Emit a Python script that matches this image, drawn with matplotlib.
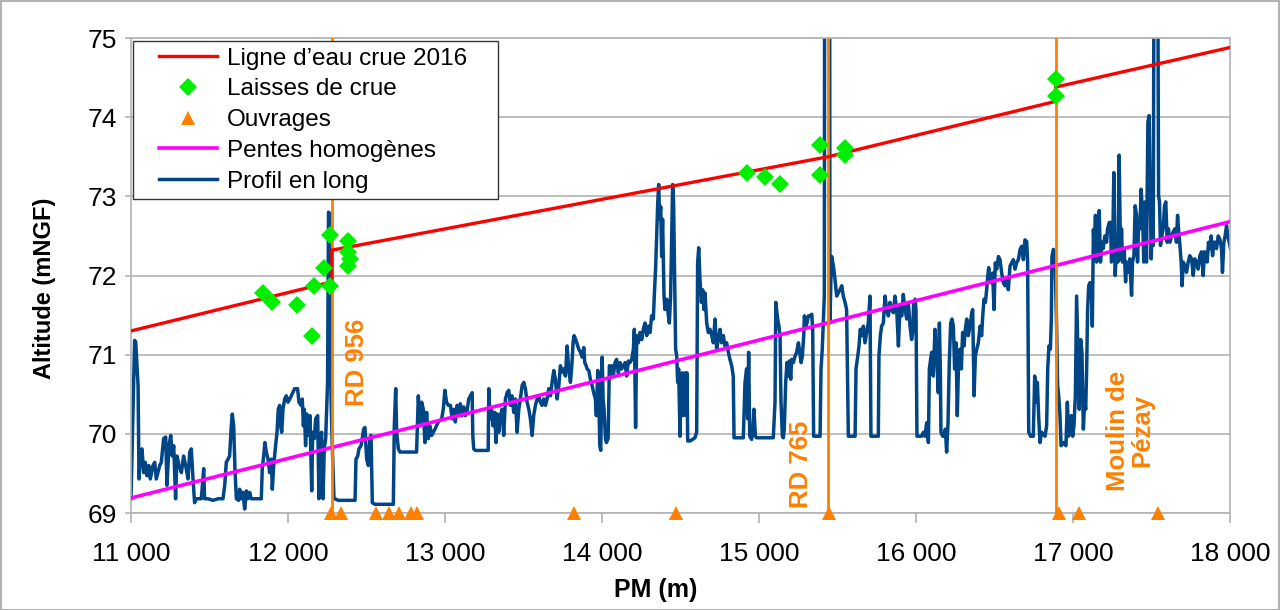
import matplotlib
matplotlib.use("Agg")
import matplotlib.pyplot as plt
from matplotlib.ticker import FuncFormatter
from matplotlib.lines import Line2D
from matplotlib.legend_handler import HandlerLine2D

plt.rcParams['font.family'] = ['Liberation Sans', 'DejaVu Sans']

# ---------------- data ----------------
ligne_pm = [11000, 12280, 12280, 15440, 16890, 16890, 18000]
ligne_z = [71.30, 71.92, 72.32, 73.50, 74.20, 74.38, 74.88]

laisses_pm = [11843, 11896, 12055, 12151, 12168, 12231, 12268, 12268, 12380, 12384, 12395, 12384,
              14924, 15038, 15134, 15389, 15389, 15548, 15548, 16892, 16892]
laisses_z = [71.78, 71.67, 71.63, 71.23, 71.87, 72.10, 72.51, 71.87, 72.44, 72.30, 72.21, 72.12,
             73.29, 73.24, 73.16, 73.65, 73.27, 73.61, 73.52, 74.48, 74.27]

ouvrages_pm = [12274, 12338, 12561, 12643, 12707, 12783, 12822, 13822, 14471, 15446, 16911, 17038, 17541]
ouvrages_z = [69.0] * len(ouvrages_pm)

ouvrages_majeurs_pm = [12280, 15440, 16890]
ouvrages_majeurs_noms = ["RD 956", "RD 765", "Moulin de\nPézay"]
ouvrages_majeurs_label_pm = [12440, 15267, 17363]
ouvrages_majeurs_label_z = [70.90, 69.61, 70.04]

pentes_pm = [11000, 18000]
pentes_z = [69.19, 72.68]

profil_pm = [
    11000, 11023, 11030, 11045, 11051, 11059, 11070, 11081, 11091, 11102, 11113, 11123, 11140, 11151,
    11161, 11183, 11193, 11208, 11221, 11229, 11242, 11253, 11263, 11272, 11284, 11293, 11306, 11321,
    11335, 11348, 11363, 11374, 11384, 11395, 11405, 11416, 11448, 11463, 11469, 11490, 11522, 11554,
    11586, 11597, 11607, 11618, 11628, 11639, 11645, 11654, 11662, 11671, 11686, 11692, 11703, 11713,
    11724, 11735, 11745, 11756, 11766, 11819, 11830, 11836, 11845, 11853, 11862, 11873, 11883, 11894,
    11900, 11909, 11921, 11930, 11938, 11947, 11953, 11960, 11968, 11979, 11989, 12000, 12011, 12021,
    12042, 12061, 12070, 12083, 12091, 12098, 12104, 12112, 12119, 12129, 12140, 12151, 12157, 12168,
    12176, 12189, 12197, 12206, 12214, 12223, 12231, 12240, 12252, 12258, 12266, 12274, 12282, 12293,
    12299, 12320, 12352, 12405, 12427, 12433, 12444, 12452, 12465, 12473, 12482, 12490, 12501, 12512,
    12522, 12529, 12537, 12554, 12639, 12671, 12677, 12686, 12692, 12703, 12713, 12734, 12819, 12830,
    12841, 12851, 12862, 12872, 12883, 12894, 12904, 12915, 12936, 12957, 12979, 12989, 12999, 13010,
    13021, 13035, 13045, 13056, 13066, 13077, 13088, 13098, 13109, 13120, 13130, 13141, 13151, 13162,
    13173, 13177, 13183, 13194, 13236, 13275, 13279, 13287, 13296, 13306, 13317, 13325, 13334, 13342,
    13353, 13364, 13374, 13385, 13396, 13406, 13417, 13427, 13438, 13449, 13459, 13470, 13480, 13491,
    13502, 13512, 13523, 13534, 13544, 13555, 13565, 13576, 13587, 13597, 13608, 13618, 13629, 13640,
    13650, 13661, 13672, 13682, 13693, 13703, 13714, 13725, 13735, 13746, 13756, 13767, 13778, 13788,
    13799, 13809, 13816, 13822, 13831, 13841, 13852, 13863, 13873, 13884, 13890, 13899, 13905, 13916,
    13926, 13937, 13947, 13958, 13964, 13973, 13979, 13986, 13992, 14001, 14007, 14013, 14022, 14028,
    14039, 14047, 14056, 14062, 14072, 14083, 14093, 14104, 14115, 14125, 14136, 14147, 14157, 14168,
    14178, 14189, 14200, 14206, 14214, 14221, 14231, 14242, 14253, 14263, 14274, 14285, 14295, 14306,
    14316, 14327, 14333, 14342, 14348, 14355, 14361, 14367, 14374, 14380, 14386, 14395, 14401, 14412,
    14423, 14429, 14437, 14444, 14450, 14456, 14463, 14469, 14476, 14482, 14488, 14497, 14503, 14510,
    14516, 14522, 14529, 14535, 14541, 14546, 14561, 14592, 14603, 14609, 14616, 14624, 14633, 14641,
    14650, 14656, 14667, 14677, 14688, 14699, 14709, 14720, 14730, 14741, 14752, 14762, 14773, 14783,
    14794, 14805, 14815, 14826, 14836, 14841, 14858, 14900, 14911, 14921, 14928, 14934, 14941, 14947,
    14953, 14960, 14968, 14977, 14985, 15028, 15091, 15102, 15107, 15119, 15127, 15134, 15140, 15149,
    15155, 15161, 15170, 15178, 15187, 15193, 15202, 15208, 15219, 15229, 15240, 15251, 15257, 15268,
    15276, 15285, 15289, 15297, 15306, 15314, 15325, 15336, 15342, 15348, 15367, 15389, 15395, 15403,
    15412, 15416, 15418, 15450, 15452, 15458, 15463, 15474, 15484, 15495, 15505, 15516, 15527, 15537,
    15548, 15558, 15569, 15590, 15612, 15618, 15629, 15637, 15645, 15654, 15665, 15675, 15686, 15696,
    15707, 15713, 15739, 15760, 15764, 15773, 15781, 15792, 15803, 15813, 15824, 15834, 15845, 15856,
    15866, 15877, 15888, 15898, 15909, 15919, 15930, 15941, 15951, 15962, 15972, 15979, 15985, 15994,
    16000, 16006, 16036, 16047, 16057, 16068, 16079, 16085, 16093, 16100, 16110, 16121, 16132, 16142,
    16149, 16155, 16159, 16170, 16178, 16187, 16195, 16204, 16212, 16221, 16229, 16238, 16246, 16255,
    16263, 16272, 16280, 16289, 16297, 16306, 16314, 16323, 16333, 16344, 16355, 16361, 16370, 16378,
    16387, 16397, 16408, 16418, 16425, 16433, 16442, 16450, 16457, 16463, 16471, 16480, 16488, 16497,
    16505, 16514, 16525, 16535, 16546, 16556, 16567, 16578, 16588, 16599, 16609, 16620, 16631, 16641,
    16652, 16663, 16673, 16684, 16694, 16705, 16711, 16718, 16730, 16747, 16756, 16764, 16773, 16781,
    16790, 16800, 16822, 16832, 16839, 16847, 16856, 16862, 16866, 16875, 16885, 16896, 16902, 16909,
    16917, 16924, 16939, 16955, 16964, 16972, 16981, 16989, 16998, 17006, 17015, 17023, 17032, 17040,
    17049, 17057, 17066, 17074, 17081, 17087, 17093, 17100, 17108, 17117, 17123, 17130, 17135, 17143,
    17150, 17160, 17167, 17175, 17184, 17192, 17203, 17214, 17220, 17231, 17239, 17245, 17252, 17260,
    17269, 17277, 17286, 17294, 17303, 17309, 17315, 17326, 17335, 17341, 17352, 17362, 17373, 17379,
    17388, 17396, 17405, 17411, 17417, 17426, 17434, 17443, 17451, 17460, 17468, 17477, 17485, 17492,
    17498, 17504, 17511, 17516, 17540, 17545, 17551, 17557, 17566, 17574, 17583, 17591, 17600, 17608,
    17617, 17628, 17638, 17649, 17659, 17666, 17672, 17681, 17689, 17695, 17702, 17712, 17723, 17734,
    17744, 17755, 17766, 17776, 17787, 17797, 17808, 17819, 17829, 17838, 17846, 17855, 17863, 17872,
    17880, 17889, 17897, 17906, 17914, 17925, 17935, 17946, 17952, 17961, 17969, 17978, 17986, 17995,
    18003,
]
profil_z = [
    69.18, 71.18, 71.16, 70.61, 69.43, 69.68, 69.81, 69.51, 69.64, 69.47, 69.60, 69.43, 69.60, 69.64,
    69.43, 69.60, 69.64, 69.94, 69.96, 69.35, 69.85, 69.98, 69.72, 69.85, 69.18, 69.72, 69.60, 69.51,
    69.72, 69.60, 69.43, 69.77, 69.81, 69.43, 69.13, 69.18, 69.18, 69.56, 69.18, 69.18, 69.16, 69.18,
    69.18, 69.35, 69.64, 69.68, 69.72, 70.10, 70.25, 70.10, 69.56, 69.18, 69.16, 69.30, 69.18, 69.26,
    69.05, 69.28, 69.18, 69.26, 69.18, 69.18, 69.18, 69.56, 69.72, 69.89, 69.77, 69.68, 69.51, 69.68,
    69.30, 69.60, 69.85, 70.02, 70.31, 70.36, 70.10, 70.02, 70.31, 70.44, 70.48, 70.40, 70.44, 70.48,
    70.57, 70.57, 70.40, 70.36, 70.44, 70.10, 70.31, 69.85, 70.25, 69.98, 70.23, 69.28, 70.02, 69.94,
    70.19, 70.23, 69.18, 69.89, 70.02, 69.18, 69.81, 69.94, 70.65, 72.80, 72.78, 70.44, 69.85, 69.18,
    69.18, 69.16, 69.16, 69.16, 69.16, 69.68, 69.72, 69.81, 69.85, 69.94, 70.06, 70.08, 69.68, 69.60,
    69.94, 69.98, 69.13, 69.11, 69.11, 69.11, 70.10, 70.57, 70.02, 69.81, 69.77, 69.77, 69.77, 70.48,
    70.10, 70.40, 70.31, 69.89, 70.27, 69.94, 70.10, 69.98, 70.06, 70.15, 70.19, 70.31, 70.55, 70.40,
    70.36, 70.36, 70.19, 70.31, 70.15, 70.36, 70.27, 70.38, 70.23, 70.34, 70.23, 70.29, 70.44, 70.48,
    70.52, 69.98, 69.81, 69.79, 69.79, 69.79, 70.57, 70.19, 70.31, 70.10, 70.27, 69.89, 70.25, 70.02,
    70.23, 70.31, 69.98, 70.44, 70.52, 70.55, 70.36, 70.48, 70.27, 70.44, 70.02, 70.31, 70.44, 70.61,
    70.65, 70.57, 70.40, 70.31, 70.19, 69.98, 70.23, 70.36, 70.44, 70.48, 70.40, 70.36, 70.44, 70.36,
    70.44, 70.57, 70.48, 70.65, 70.80, 70.69, 70.44, 70.61, 70.86, 70.78, 70.82, 70.73, 71.11, 70.82,
    70.65, 70.90, 71.16, 71.24, 71.20, 71.14, 71.07, 71.03, 70.97, 71.09, 70.90, 70.86, 70.82, 70.80,
    70.69, 70.61, 70.52, 70.44, 70.23, 70.80, 70.48, 69.85, 69.79, 70.97, 70.44, 70.31, 69.94, 69.89,
    69.94, 70.86, 70.82, 70.86, 70.73, 70.90, 70.94, 70.77, 70.90, 70.82, 70.86, 70.90, 70.73, 70.92,
    70.90, 70.94, 71.07, 71.32, 70.08, 71.24, 71.15, 71.28, 71.19, 71.32, 71.40, 71.24, 71.36, 71.28,
    71.49, 71.45, 71.74, 72.12, 72.50, 72.92, 73.15, 72.71, 72.87, 72.24, 72.71, 71.74, 71.57, 71.70,
    71.49, 71.40, 71.74, 72.50, 73.15, 72.92, 71.87, 71.07, 70.98, 70.65, 70.82, 69.97, 70.65, 70.77,
    70.23, 70.48, 70.77, 70.23, 70.77, 69.91, 69.91, 69.95, 70.02, 72.16, 72.35, 71.95, 71.66, 71.82,
    71.57, 71.78, 71.40, 71.28, 71.32, 71.24, 71.15, 71.45, 71.07, 71.19, 71.32, 71.15, 71.24, 71.11,
    71.15, 71.03, 70.94, 70.86, 70.73, 69.95, 69.95, 69.95, 70.65, 70.82, 70.19, 71.03, 69.97, 69.95,
    69.93, 70.02, 70.31, 69.97, 69.95, 69.95, 69.95, 70.40, 71.66, 71.45, 71.36, 71.24, 70.40, 69.97,
    69.95, 70.06, 70.65, 70.90, 70.73, 70.92, 70.69, 70.94, 70.90, 70.98, 71.03, 71.15, 71.07, 70.90,
    70.98, 71.24, 71.49, 71.36, 71.40, 71.49, 71.49, 71.51, 71.32, 69.97, 69.97, 69.97, 70.82, 71.07,
    71.55, 71.74, 76.00, 76.00, 71.40, 71.95, 72.24, 72.12, 71.95, 71.74, 71.78, 71.82, 71.87, 71.74,
    71.66, 71.57, 69.97, 69.97, 69.97, 70.82, 70.98, 71.11, 71.32, 71.24, 71.36, 71.15, 71.28, 71.40,
    71.74, 69.97, 69.97, 69.97, 70.98, 71.24, 71.36, 71.40, 71.74, 71.57, 71.49, 71.66, 71.57, 71.53,
    71.74, 71.57, 71.11, 71.61, 71.49, 71.76, 71.57, 71.45, 71.66, 71.36, 71.19, 71.28, 71.66, 71.70,
    71.57, 69.97, 69.97, 70.02, 69.97, 70.14, 69.89, 70.82, 70.94, 71.03, 70.73, 71.32, 70.98, 70.52,
    71.40, 70.82, 70.02, 69.97, 69.97, 70.06, 69.77, 70.14, 70.90, 71.40, 71.45, 71.36, 70.82, 71.15,
    70.23, 70.98, 71.07, 70.82, 71.28, 71.11, 71.32, 71.45, 71.24, 71.36, 71.53, 71.57, 70.48, 70.98,
    71.07, 71.15, 71.36, 71.24, 71.49, 71.70, 71.66, 71.82, 71.99, 72.10, 71.95, 71.91, 72.03, 71.57,
    72.16, 72.08, 72.24, 72.20, 72.03, 71.91, 71.87, 71.95, 71.82, 72.12, 72.16, 72.20, 72.08, 72.16,
    72.20, 72.33, 72.37, 72.20, 72.45, 72.43, 72.16, 70.02, 69.97, 69.97, 70.73, 70.40, 70.65, 70.23,
    69.89, 70.02, 69.97, 70.10, 70.82, 71.11, 71.07, 71.45, 72.24, 72.33, 72.29, 71.32, 70.61, 70.48,
    70.23, 69.85, 69.89, 69.85, 70.40, 69.97, 70.06, 70.23, 69.97, 70.10, 70.48, 71.74, 70.98, 70.31,
    71.19, 71.03, 70.06, 70.40, 70.31, 70.82, 71.57, 71.87, 71.91, 71.82, 71.36, 72.58, 72.34, 72.76,
    72.17, 72.50, 72.82, 72.17, 72.42, 72.34, 72.50, 72.42, 72.59, 72.67, 72.67, 72.17, 72.25, 73.30,
    72.00, 72.42, 72.17, 73.52, 72.21, 72.59, 72.17, 72.34, 71.92, 72.17, 72.04, 72.21, 71.75, 72.17,
    72.25, 72.88, 72.76, 72.17, 72.59, 72.59, 73.09, 72.76, 72.17, 72.93, 72.17, 73.94, 74.02, 73.01,
    72.21, 72.59, 72.38, 76.00, 76.00, 73.01, 72.93, 72.38, 72.50, 72.59, 72.88, 72.93, 72.42, 72.59,
    72.42, 72.50, 72.55, 72.59, 72.42, 72.76, 72.59, 72.38, 72.17, 71.87, 72.17, 72.13, 72.04, 72.17,
    72.25, 72.21, 72.00, 72.21, 72.17, 72.08, 72.25, 72.30, 72.00, 72.30, 72.25, 72.17, 72.42, 72.34,
    72.50, 72.25, 72.42, 72.42, 72.34, 72.50, 72.46, 72.34, 72.04, 72.42, 72.50, 72.63, 72.50, 72.42,
    72.34,
]

x_ticks = [11000, 12000, 13000, 14000, 15000, 16000, 17000, 18000]
y_ticks = [69, 70, 71, 72, 73, 74, 75]

# ---------------- styles ----------------
BLUE = '#004586'
RED = '#ff0000'
GREEN = '#00ee00'
ORANGE = '#ff8000'
MAGENTA = '#ff00ff'
GRID = '#b3b3b3'
W, H = 1280, 610

fig = plt.figure(figsize=(12.8, 6.1), dpi=100)
ax = fig.add_axes([131 / W, 1 - 513 / H, (1230 - 131) / W, (513 - 38) / H])

ax.set_xlim(11000, 18000)
ax.set_ylim(69, 75)

ax.plot(profil_pm, profil_z, color=BLUE, lw=2.5, zorder=2, label='Profil en long')
ax.plot(pentes_pm, pentes_z, color=MAGENTA, lw=2.6, zorder=3, label='Pentes homogènes')
for pm in ouvrages_majeurs_pm:
    ax.axvline(pm, color=ORANGE, lw=2.0, zorder=3.5)
ax.plot(ligne_pm, ligne_z, color=RED, lw=2.4, zorder=4, label="Ligne d\u2019eau crue 2016")
ax.plot(laisses_pm, laisses_z, linestyle='none', marker='D', ms=9, color=GREEN,
        markeredgewidth=0, zorder=5, label='Laisses de crue')
ax.plot(ouvrages_pm, ouvrages_z, linestyle='none', marker='^', ms=10.5, color=ORANGE,
        markeredgewidth=0, zorder=6, clip_on=False, label='Ouvrages')

for nom, xp, yp in zip(ouvrages_majeurs_noms, ouvrages_majeurs_label_pm, ouvrages_majeurs_label_z):
    ax.text(xp, yp, nom, rotation=90, color=ORANGE, fontsize=18.5, fontweight='bold',
            ha='center', va='center', multialignment='center', linespacing=1.0, zorder=7)

# axes styling
ax.set_xticks(x_ticks)
ax.set_yticks(y_ticks)
ax.xaxis.set_major_formatter(FuncFormatter(lambda v, p: f"{int(v):,}".replace(',', ' ')))
ax.grid(axis='y', color=GRID, lw=1.2, zorder=0)
ax.set_axisbelow(True)
for s in ax.spines.values():
    s.set_color(GRID)
    s.set_linewidth(1.2)
ax.tick_params(axis='x', direction='out', length=7, width=1.2, color=GRID, labelsize=19, pad=14)
ax.tick_params(axis='y', direction='out', length=4, width=1.2, color=GRID, labelsize=19, pad=6)

fig.text(656 / W, 1 - 590 / H, 'PM (m)', fontsize=18, fontweight='bold', ha='center', va='center')
fig.text(45 / W, 1 - 288 / H, 'Altitude (mNGF)', fontsize=17, fontweight='bold', ha='center',
         va='center', rotation=90)

handles, labels = ax.get_legend_handles_labels()
order = ["Ligne d\u2019eau crue 2016", 'Laisses de crue', 'Ouvrages', 'Pentes homogènes', 'Profil en long']
hmap = dict(zip(labels, handles))
x0 = (133 - 131) / 1099
leg = ax.legend([hmap[l] for l in order], order, loc='upper left',
                bbox_to_anchor=(x0, (513 - 41) / 475, (498 - 133) / 1099, 0.0), mode='expand',
                fontsize=17.5, frameon=True, fancybox=False, edgecolor='#333333', framealpha=1,
                borderaxespad=0.0, handlelength=3.2, handletextpad=0.41, labelspacing=0.36,
                borderpad=0.27, handler_map={Line2D: HandlerLine2D(xpad=0.8)})
leg.get_frame().set_linewidth(1.0)
leg.set_zorder(10)

fig.patches.append(plt.Rectangle((0.0005, 0.0008), 0.999, 0.998, transform=fig.transFigure,
                                 fill=False, edgecolor='#b3b3b3', lw=1.5))

fig.savefig('out.png', dpi=100)
